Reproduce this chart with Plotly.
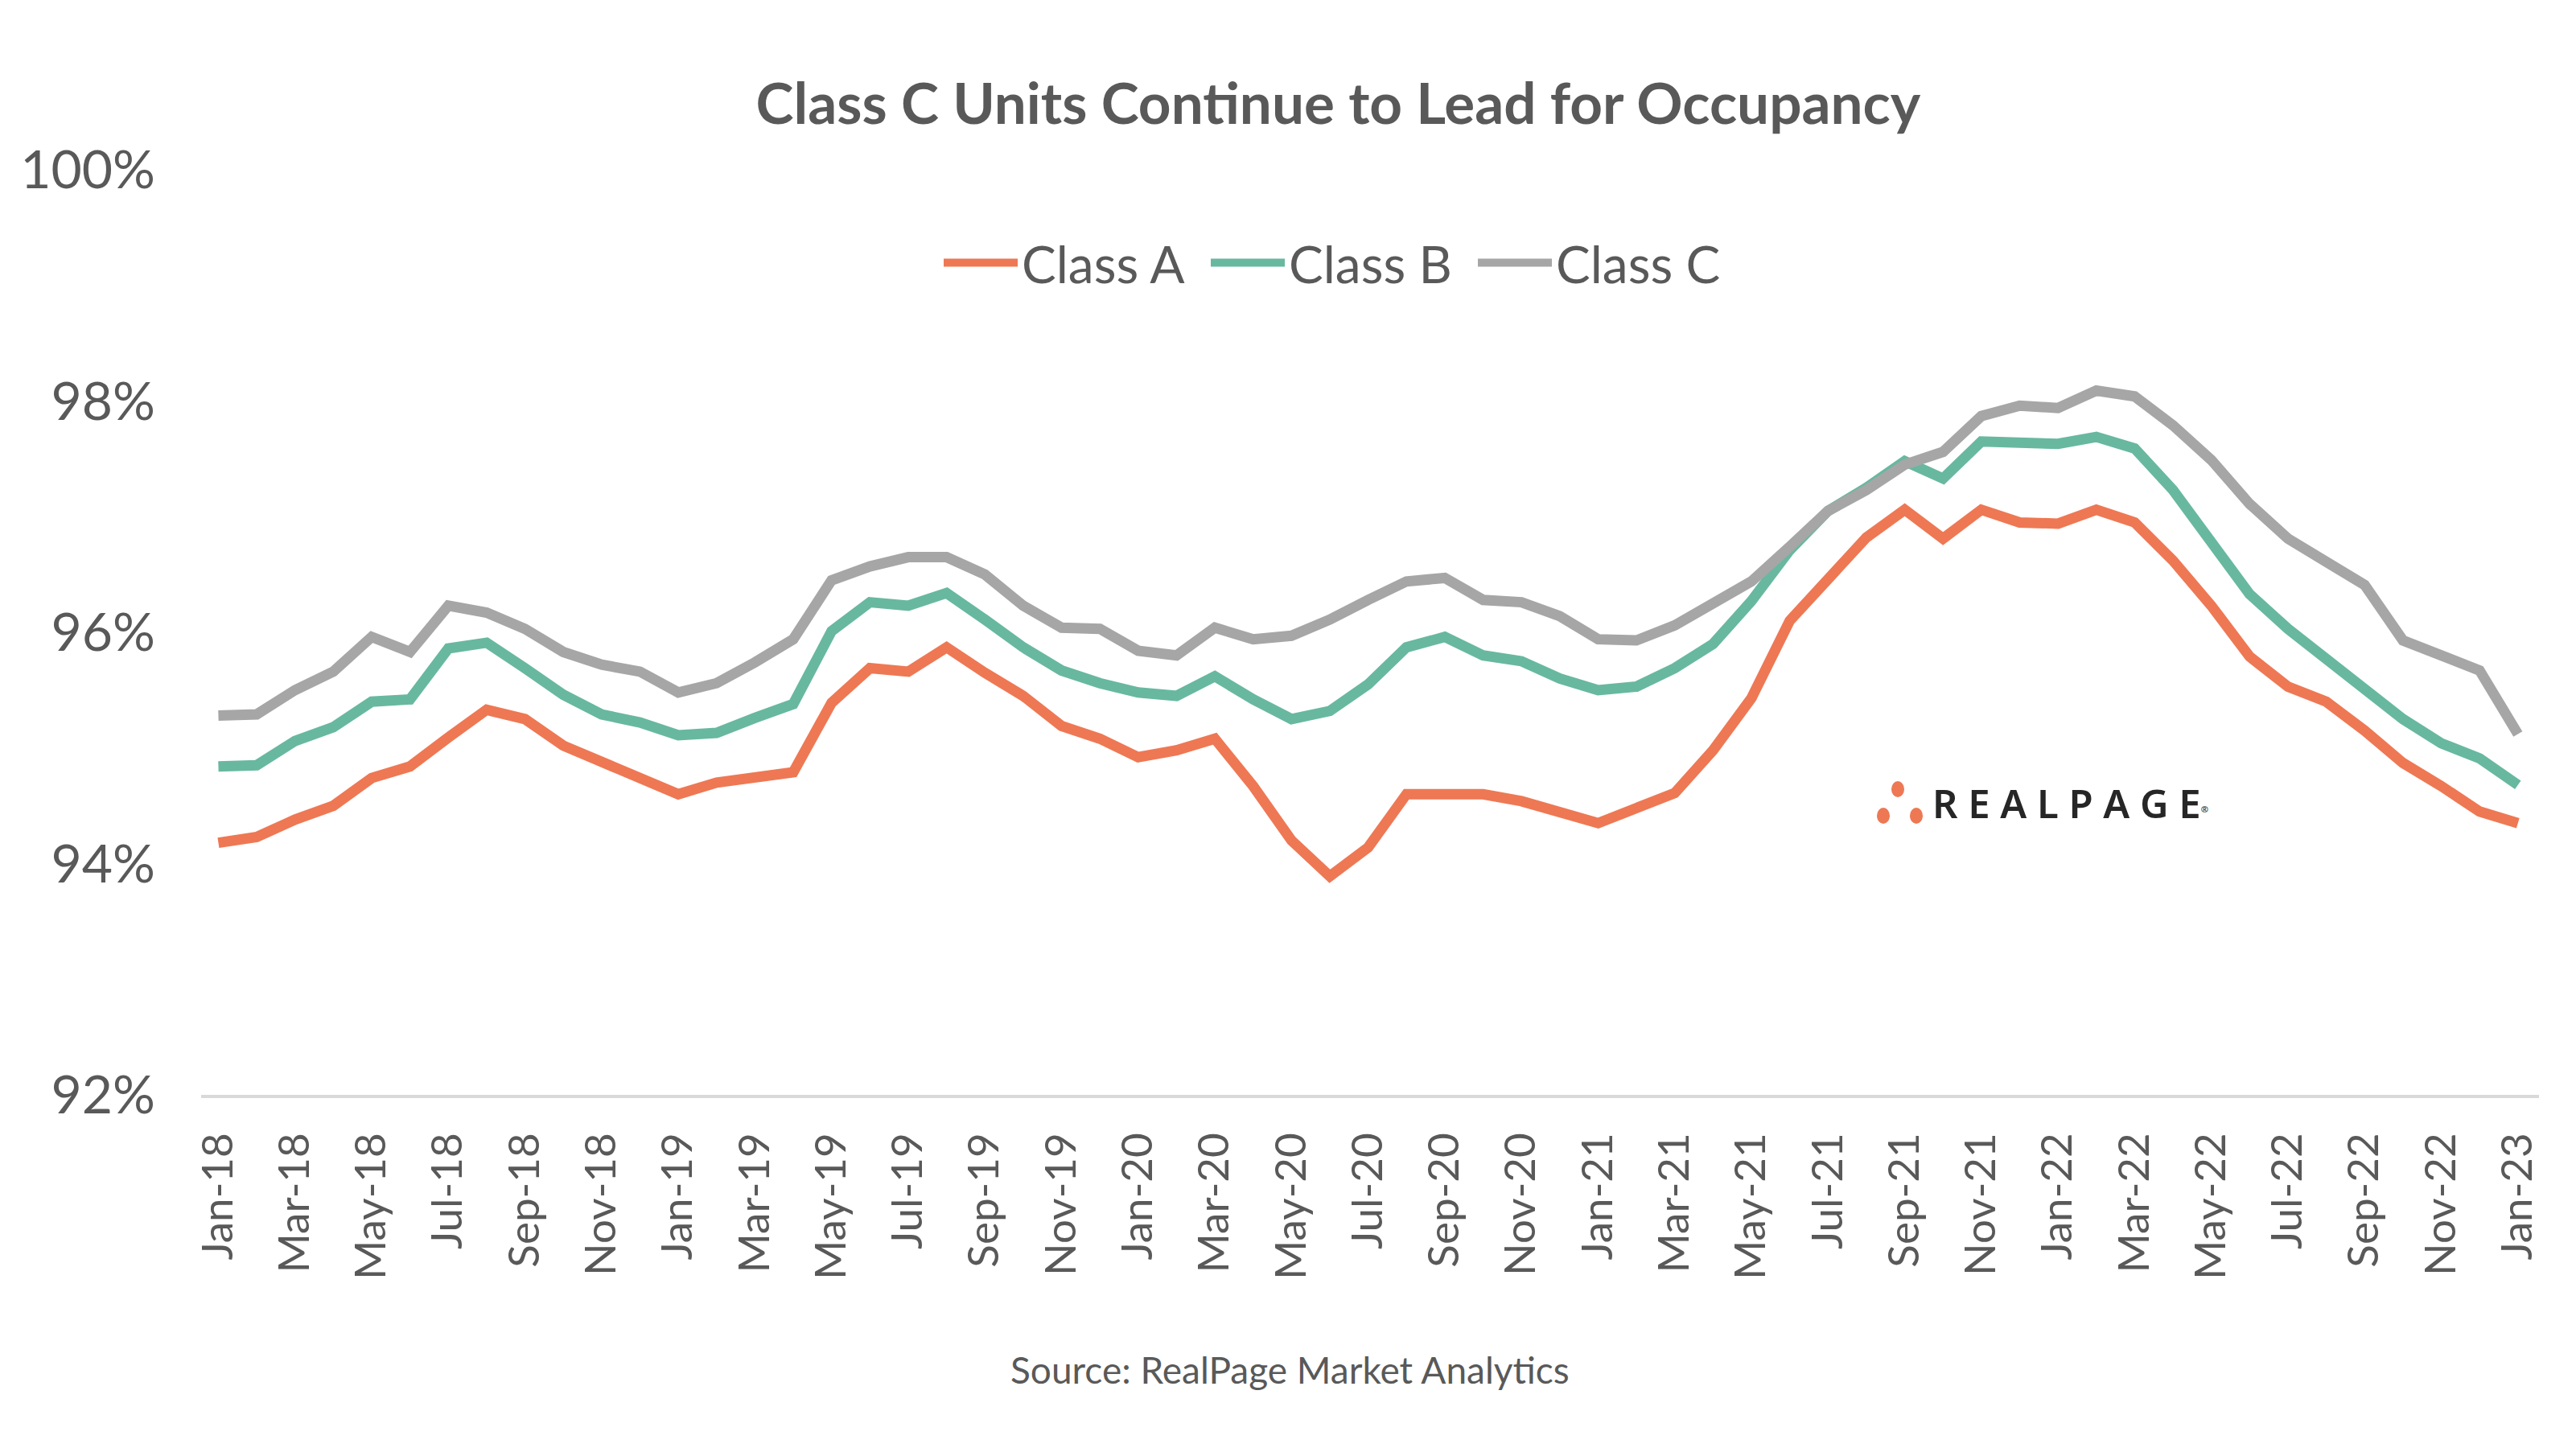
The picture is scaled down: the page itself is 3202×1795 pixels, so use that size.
import plotly.graph_objects as go

months = ["Jan", "Feb", "Mar", "Apr", "May", "Jun", "Jul", "Aug", "Sep", "Oct", "Nov", "Dec"]
categories = [f"{m}-{y:02d}" for y in range(18, 23) for m in months] + ["Jan-23"]

class_a = [94.18, 94.23, 94.38, 94.50, 94.74, 94.84, 95.09, 95.33, 95.25, 95.02, 94.88, 94.75,
           94.60, 94.70, 94.74, 94.79, 95.39, 95.69, 95.66, 95.87, 95.65, 95.45, 95.19, 95.08,
           94.92, 94.98, 95.08, 94.67, 94.20, 93.89, 94.14, 94.60, 94.60, 94.60, 94.54, 94.44,
           94.35, 94.48, 94.61, 94.98, 95.43, 96.10, 96.45, 96.82, 97.06, 96.81, 97.06, 96.95,
           96.94, 97.06, 96.95, 96.62, 96.23, 95.79, 95.53, 95.40, 95.15, 94.87, 94.67, 94.45,
           94.35]
class_b = [94.84, 94.85, 95.06, 95.18, 95.40, 95.42, 95.86, 95.91, 95.69, 95.46, 95.29, 95.22,
           95.11, 95.13, 95.26, 95.38, 96.01, 96.26, 96.23, 96.34, 96.11, 95.87, 95.67, 95.56,
           95.48, 95.45, 95.62, 95.42, 95.25, 95.32, 95.55, 95.87, 95.96, 95.80, 95.75, 95.60,
           95.50, 95.53, 95.69, 95.90, 96.27, 96.71, 97.05, 97.25, 97.48, 97.33, 97.65, 97.63,
           97.63, 97.69, 97.59, 97.23, 96.78, 96.33, 96.03, 95.77, 95.53, 95.25, 95.04, 94.91,
           94.68]
class_c = [95.28, 95.29, 95.50, 95.66, 95.96, 95.83, 96.23, 96.17, 96.03, 95.83, 95.72, 95.66,
           95.48, 95.56, 95.74, 95.94, 96.45, 96.57, 96.65, 96.65, 96.50, 96.23, 96.04, 96.03,
           95.84, 95.80, 96.04, 95.94, 95.97, 96.11, 96.28, 96.44, 96.47, 96.28, 96.26, 96.14,
           95.94, 95.93, 96.06, 96.24, 96.44, 96.74, 97.05, 97.23, 97.45, 97.56, 97.87, 97.96,
           97.94, 98.09, 98.04, 97.79, 97.49, 97.11, 96.81, 96.61, 96.41, 95.93, 95.79, 95.67,
           95.12]

series = [("Class A", class_a, "#EE7854"), ("Class B", class_b, "#68B8A0"), ("Class C", class_c, "#A6A6A6")]

y_ticks = [92, 94, 96, 98, 100]
y_ticktext = [f"{v}%" for v in y_ticks]
x_tickvals = list(range(0, len(categories), 2))
x_ticktext = [categories[i] for i in x_tickvals]

FONT = "Lato"
TXT = "#595959"

fig = go.Figure()
for name, vals, col in series:
    fig.add_trace(go.Scatter(x=list(range(len(categories))), y=vals, name=name, mode="lines",
                             line=dict(color=col, width=13)))

W, H = 3202, 1795
L, R, T, B = 242, 54, 203, 442
pw = W - L - R
ph = H - T - B
def px(xp):
    return (xp - L) / pw
def py(yp):
    return 1 - (yp - T) / ph

fig.update_layout(
    width=W, height=H,
    margin=dict(l=L, r=R, t=T, b=B),
    paper_bgcolor="white", plot_bgcolor="white",
    font=dict(family=FONT, color=TXT),
    title=dict(text="<b>Class C Units Continue to Lead for Occupancy</b>",
               x=0.517, xanchor="center", y=1 - 121 / H, yanchor="middle",
               font=dict(size=71, color=TXT, family=FONT)),
    legend=dict(orientation="h", x=px(1658), xanchor="center", y=py(319), yanchor="middle",
                font=dict(size=64, color=TXT, family=FONT), itemwidth=92,
                entrywidth=225, entrywidthmode="pixels",
                bgcolor="rgba(0,0,0,0)"),
    showlegend=True,
)
fig.update_xaxes(range=[-0.45, 60.55], tickmode="array", tickvals=x_tickvals, ticktext=x_ticktext,
                 tickangle=-90, tickfont=dict(size=53, color=TXT, family=FONT),
                 showgrid=False, zeroline=False, showline=True, linecolor="#D9D9D9", linewidth=4,
                 ticks="", ticklabelstandoff=22)
fig.update_yaxes(range=[92, 100], tickmode="array", tickvals=y_ticks, ticktext=y_ticktext,
                 tickfont=dict(size=66, color=TXT, family=FONT), showgrid=False, zeroline=False,
                 showline=False, ticks="", ticklabelstandoff=56)

# Source note
fig.add_annotation(text="Source: RealPage Market Analytics", xref="paper", yref="paper",
                   x=px(1595), y=py(1694), xanchor="center", yanchor="middle",
                   showarrow=False, font=dict(size=46, color=TXT, family=FONT))

# RealPage logo (decorative)
for cx, cy in [(2351, 973), (2333, 1006), (2374, 1006)]:
    fig.add_shape(type="circle", xref="paper", yref="paper",
                  x0=px(cx - 8), x1=px(cx + 8), y0=py(cy + 10), y1=py(cy - 10),
                  fillcolor="#EE7854", line=dict(width=0))
fig.add_annotation(text="R E A L P A G E<span style='font-size:16px'><sup>®</sup></span>",
                   xref="paper", yref="paper",
                   x=px(2392), y=py(990), xanchor="left", yanchor="middle", showarrow=False,
                   font=dict(size=49, color="#262626", family="Noto Sans", weight=600))

fig.write_html("out.html")
